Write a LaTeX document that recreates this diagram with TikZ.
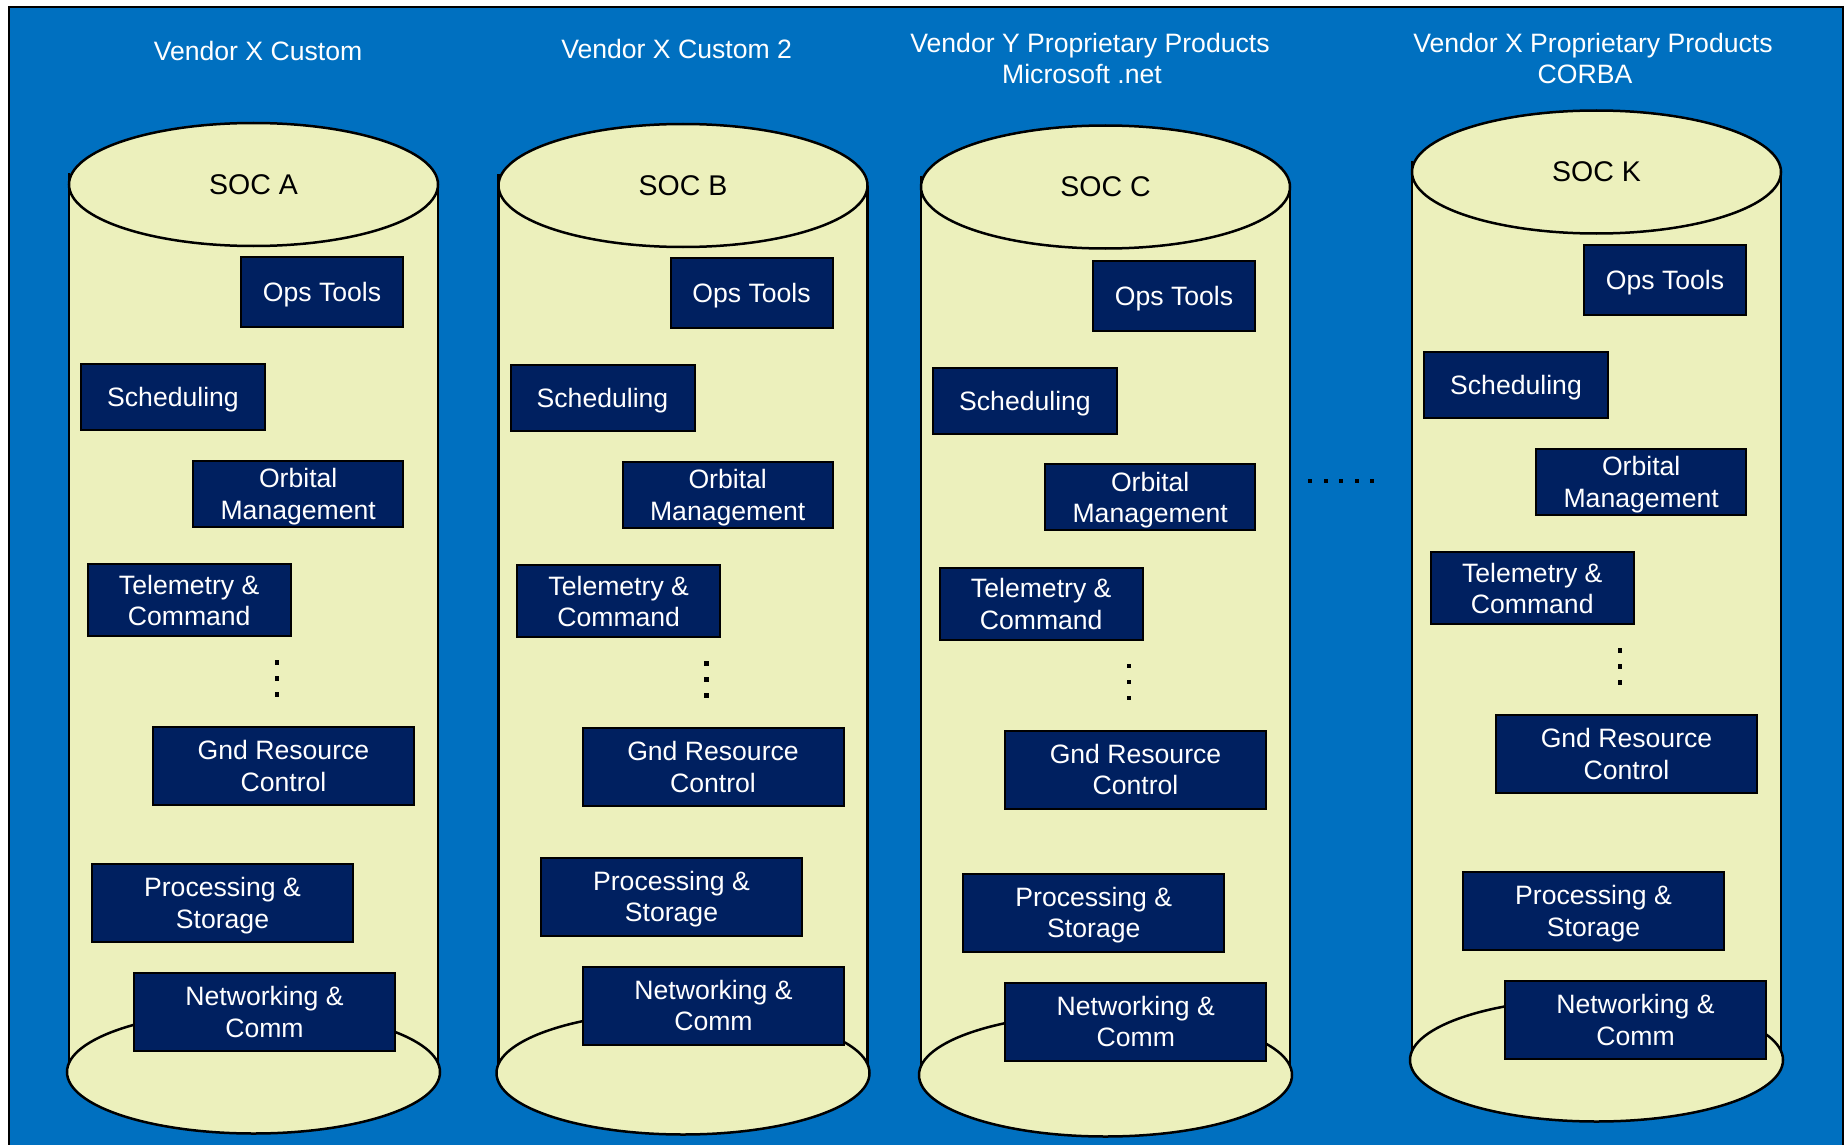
\documentclass[tikz,border=0pt]{standalone}
\usepackage{fontspec}
\setmainfont{Liberation Sans}
\definecolor{panelblue}{RGB}{0,112,192}
\definecolor{canfill}{RGB}{236,240,188}
\definecolor{navybox}{RGB}{0,32,96}
\tikzset{
  unitbox/.style={draw=black, line width=2pt, fill=navybox, text=white,
    inner sep=0pt, align=center, text depth=0pt,
    font=\fontsize{26.6}{31.5}\selectfont},
  canline/.style={draw=black, line width=2.5pt},
  vendortitle/.style={text=white, align=center, inner sep=0pt,
    font=\fontsize{26.6}{31}\selectfont},
  soclabel/.style={text=black, inner sep=0pt, font=\fontsize{28.5}{34}\selectfont},
  dotmark/.style={fill=black},
}
% one functional block: name, centre x, centre y, width, height, text
\newcommand\ubox[6]{%
  \node[unitbox, minimum width=#4pt, minimum height=#5pt] (#1) at (#2,#3) {#6};}
% one SOC cylinder with its blocks:
% prefix, label, cx, top cy, bottom cy, dx, dy (upper blocks), dx, dy (lower blocks)
\newcommand\socstack[9]{%
  \fill[canfill] (#3-184.5,#4) rectangle (#3+184.5,#5);
  \draw[canline] (#3-184.5,#4-11) -- (#3-184.5,#5);
  \draw[canline] (#3+184.5,#4) -- (#3+184.5,#5);
  \filldraw[canline, fill=canfill] (#3,#5) ellipse [x radius=186.5pt, y radius=61.5pt];
  \filldraw[canline, fill=canfill] (#3,#4) ellipse [x radius=184.5pt, y radius=61.5pt];
  \node[soclabel] (#1-soc) at (#3,#4) {#2};
  \begin{scope}[shift={(#6,#7)}]
    \ubox{#1-ops}{322}{292}{162}{70}{Ops Tools}
    \ubox{#1-sched}{173}{397}{184}{66}{Scheduling}
    \ubox{#1-orb}{298.2}{493.8}{209.7}{65.7}{Orbital\\Management}
    \ubox{#1-tlm}{189.2}{600.2}{203}{72.3}{Telemetry \&\\Command}
    \ubox{#1-gnd}{283.5}{766}{261}{78}{Gnd Resource\\Control}
    \foreach \yy in {660,676,692}
      \fill[dotmark] (274.5,\yy) rectangle ++(4.5,4.5);
  \end{scope}
  \begin{scope}[shift={(#8,#9)}]
    \ubox{#1-proc}{222.5}{903}{261}{78}{Processing \&\\Storage}
    \ubox{#1-net}{264.5}{1012}{261}{78}{Networking \&\\Comm}
  \end{scope}
}
\begin{document}
\begin{tikzpicture}[x=1pt, y=-1pt]
  \useasboundingbox (0,0) rectangle (1845,1145);
  \clip (0,0) rectangle (1845,1145);
  \fill[white] (0,0) rectangle (1845,1145);
  % panel
  \filldraw[fill=panelblue, draw=black, line width=2pt] (9,7) rectangle (1843,1170);

  % column headings (two-line headings are anchored on their last line)
  \node[vendortitle, anchor=base] (tA) at (258,61) {Vendor X Custom};
  \node[vendortitle, anchor=base] (tB) at (676.6,59) {Vendor X Custom 2};
  \node[vendortitle, anchor=base] (tC) at (1090,83.5) {Vendor Y Proprietary Products\\Microsoft .net\hspace*{16pt}};
  \node[vendortitle, anchor=base] (tK) at (1593,84) {Vendor X Proprietary Products\\CORBA\hspace*{16pt}};

  % SOC cylinders
  \socstack{A}{SOC A}{253.5}{184.5}{1072}{0}{0}{0}{0}
  \socstack{B}{SOC B}{683}{185.5}{1073}{429.5}{1}{449}{-6.5}
  \socstack{C}{SOC C}{1105.5}{187}{1075}{852}{3.5}{871.3}{9.6}
  \socstack{K}{SOC K}{1596.5}{172}{1060}{1343}{-12}{1371}{8}

  % ellipsis between the last two columns
  \foreach \xx in {1310,1326,1341,1357,1372}
    \fill[dotmark] (\xx-2.25,478.5) rectangle ++(4.5,4.5);
\end{tikzpicture}
\end{document}
